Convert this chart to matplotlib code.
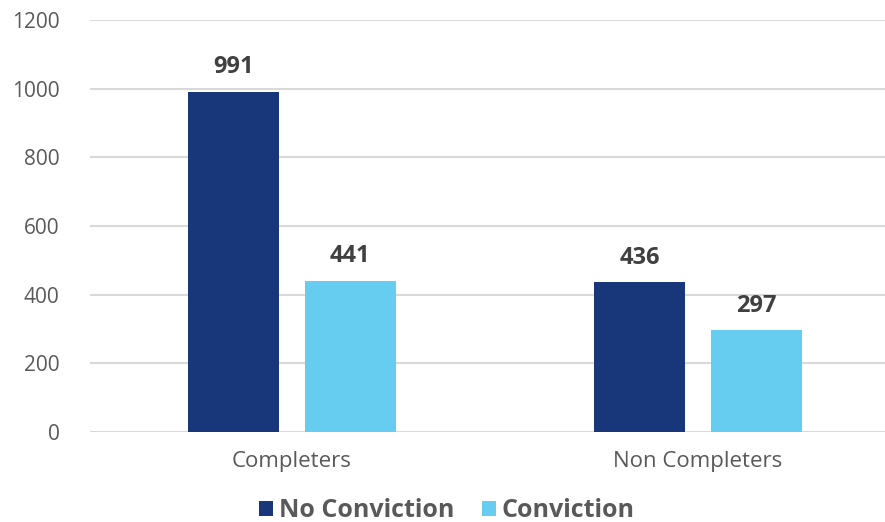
import numpy as np
import matplotlib.pyplot as plt

categories = ['Completers', 'Non Completers']
no_conviction = [991, 436]
conviction = [441, 297]
series_names = ['No Conviction', 'Conviction']

plt.rcParams['font.family'] = ['Open Sans', 'DejaVu Sans']

fig = plt.figure(figsize=(8.85, 5.22), dpi=100)
ax = fig.add_axes([0.1017, 0.1724, 0.898, 0.7893])

x = np.arange(len(categories))
w = 0.224
off = 0.143
b1 = ax.bar(x - off, no_conviction, w, color='#17377A', label=series_names[0], zorder=3)
b2 = ax.bar(x + off, conviction, w, color='#66CCF0', label=series_names[1], zorder=3)

for bars in (b1, b2):
    for b in bars:
        ax.annotate(f'{int(b.get_height())}', (b.get_x() + b.get_width() / 2, b.get_height()),
                    xytext=(0, 9), textcoords='offset points', ha='center', va='bottom',
                    fontsize=17, fontweight='bold', color='#404040')

ax.set_ylim(0, 1200)
ax.set_yticks(range(0, 1201, 200))
ax.set_xlim(-0.4975, 1.46)
ax.set_xticks(x)
ax.set_xticklabels(categories)
ax.grid(axis='y', color='#d9d9d9', linewidth=1.5, zorder=0)
for s in ax.spines.values():
    s.set_visible(False)
ax.tick_params(axis='both', length=0, labelcolor='#595959')
ax.tick_params(axis='y', pad=22, labelsize=15)
ax.tick_params(axis='x', pad=14, labelsize=16)

fig.legend(loc='lower center', bbox_to_anchor=(0.505, -0.045), ncol=2, frameon=False,
           prop={'size': 18, 'weight': 'bold'}, handlelength=0.55, handleheight=0.55,
           handletextpad=0.25, columnspacing=1.1, labelcolor='#595959')

fig.savefig('out.png', dpi=100)
